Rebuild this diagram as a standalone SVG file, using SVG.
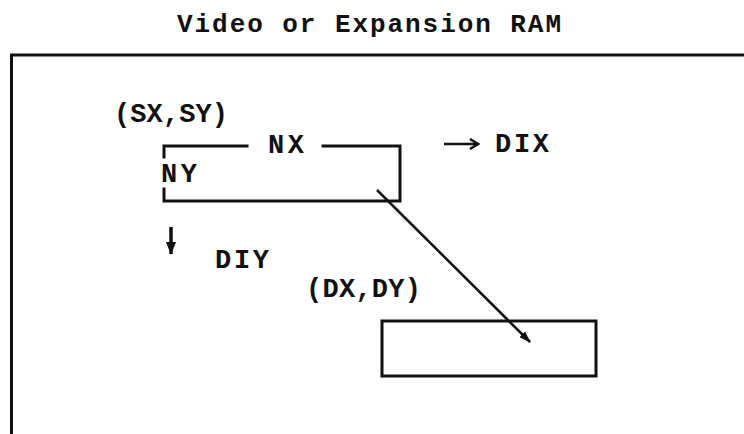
<svg xmlns="http://www.w3.org/2000/svg" width="744" height="434" viewBox="0 0 744 434">
<defs>
<style>
.t{font-family:"Liberation Mono","Courier New",monospace;font-size:27px;font-weight:bold;fill:#111;}
.b{fill:none;stroke:#111;stroke-width:3;stroke-linecap:square;}
.c{fill:none;stroke:#111;stroke-width:2.5;}
</style>
<marker id="tip" markerWidth="12" markerHeight="8" refX="11" refY="4" orient="auto" markerUnits="userSpaceOnUse">
<path d="M0,0 L12,4 L0,8 Z" fill="#111"/>
</marker>
<marker id="down" markerWidth="13" markerHeight="10" refX="12" refY="5" orient="auto" markerUnits="userSpaceOnUse">
<path d="M0,0 L13,5 L0,10 Z" fill="#111"/>
</marker>
<marker id="open" markerWidth="12" markerHeight="12" refX="10" refY="6" orient="auto" markerUnits="userSpaceOnUse">
<path d="M2,1 L10,6 L2,11" fill="none" stroke="#111" stroke-width="2.5"/>
</marker>
</defs>
<rect width="744" height="434" fill="#fff"/>
<g id="title">
<text class="t" x="177" y="32" textLength="384" lengthAdjust="spacing" style="font-size:26px">Video or Expansion RAM</text>
</g>
<g id="vram">
<path class="b" d="M760,55 L11.5,55 L11.5,450"/>
</g>
<g id="source">
<path class="b" d="M247,146 L164,146 L164,157 M164,189 L164,201 L400,201 L400,146 L323,146"/>
<text class="t" x="114" y="122" textLength="114" lengthAdjust="spacing">(SX,SY)</text>
<text class="t" x="268" y="153" textLength="36" lengthAdjust="spacing">NX</text>
<text class="t" x="161" y="182" textLength="36" lengthAdjust="spacing">NY</text>
</g>
<g id="dix">
<line class="c" x1="444" y1="144" x2="478" y2="144" marker-end="url(#open)"/>
<text class="t" x="495" y="152" textLength="54" lengthAdjust="spacing">DIX</text>
</g>
<g id="diy">
<line x1="171" y1="227" x2="171" y2="254" stroke="#111" stroke-width="3.5" marker-end="url(#down)"/>
<text class="t" x="215" y="268" textLength="54" lengthAdjust="spacing">DIY</text>
</g>
<g id="dest">
<rect class="b" x="382" y="321" width="214" height="55"/>
<text class="t" x="306" y="297" textLength="115" lengthAdjust="spacing">(DX,DY)</text>
</g>
<g id="connectors">
<line class="c" x1="377" y1="190" x2="530" y2="342" marker-end="url(#tip)"/>
</g>
</svg>
